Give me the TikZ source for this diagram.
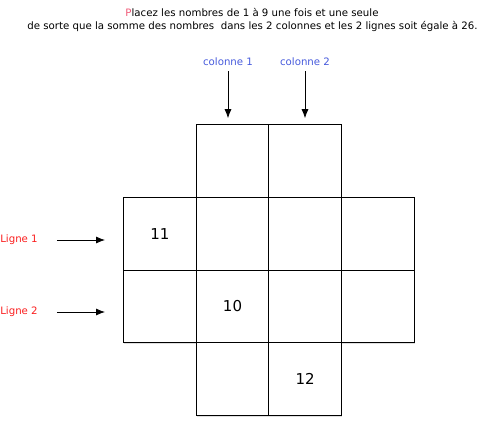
\documentclass[tikz,border=0pt]{standalone}
\usepackage{fontspec}
\setmainfont{DejaVu Sans}
\usetikzlibrary{arrows.meta,shadows}
\definecolor{colblue}{RGB}{70,90,220}
\definecolor{linered}{RGB}{250,30,30}
\definecolor{firstpink}{RGB}{240,90,120}
\tikzset{
  cell/.style={draw, line width=0.9pt, fill=white, minimum size=72.7pt, inner sep=0pt,
    font=\fontsize{15}{18}\selectfont,
    drop shadow={shadow xshift=0.6pt, shadow yshift=-1.6pt, opacity=0.25}},
  lbl/.style={font=\fontsize{10.2}{12}\selectfont, inner sep=1pt},
  pointer/.style={-{Latex[length=9pt,width=7pt]}, line width=0.8pt}
}
\begin{document}
\begin{tikzpicture}[x=1pt,y=-1pt]
\useasboundingbox (0,0) rectangle (481,433);
% consigne
\node[lbl] (t1) at (252,12) {\textcolor{firstpink}{P}lacez les nombres de 1 à 9 une fois et une seule};
\node[lbl] (t2) at (252.5,26) {de sorte que la somme des nombres \ dans les 2 colonnes et les 2 lignes soit égale à 26.};
% grille
\node[cell] (a2) at (232.5,161) {};
\node[cell] (a3) at (305.2,161) {};
\node[cell] (b1) at (159.8,233.7) {11};
\node[cell] (b2) at (232.5,233.7) {};
\node[cell] (b3) at (305.2,233.7) {};
\node[cell] (b4) at (377.9,233.7) {};
\node[cell] (c1) at (159.8,306.4) {};
\node[cell] (c2) at (232.5,306.4) {10};
\node[cell] (c3) at (305.2,306.4) {};
\node[cell] (c4) at (377.9,306.4) {};
\node[cell] (d2) at (232.5,379.1) {};
\node[cell] (d3) at (305.2,379.1) {12};
% colonnes et lignes
\node[lbl, text=colblue] (col1) at (228,62) {colonne 1};
\node[lbl, text=colblue] (col2) at (305,62) {colonne 2};
\node[lbl, text=linered] (lig1) at (19,240) {Ligne 1};
\node[lbl, text=linered] (lig2) at (19,312) {Ligne 2};
\draw[pointer, shorten <=4pt, shorten >=6pt] (col1.south) -- (col1.south |- a2.north);
\draw[pointer, shorten <=4pt, shorten >=6pt] (col2.south) -- (col2.south |- a3.north);
\draw[pointer, shorten <=18pt, shorten >=18pt] (lig1.east) -- (lig1.east -| b1.west);
\draw[pointer, shorten <=18pt, shorten >=18pt] (lig2.east) -- (lig2.east -| c1.west);
\end{tikzpicture}
\end{document}
